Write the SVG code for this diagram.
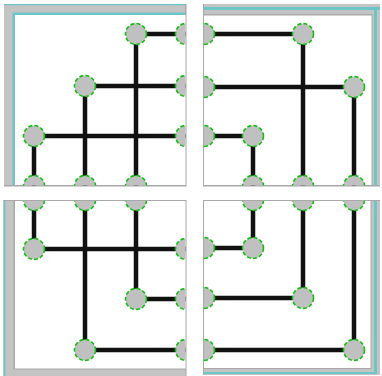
<svg xmlns="http://www.w3.org/2000/svg" width="382" height="376" viewBox="0 0 382 376">
<style>
.panel{fill:#fff}
.band{fill:#c4c4c4}
.teal{fill:#6cc6c8}
.edgeline{fill:#a8a8a8}
.e{stroke:#111;stroke-width:4.5;fill:none;stroke-linecap:butt}
.n{fill:#c0c0c0;stroke:#10c010;stroke-width:1.6;stroke-dasharray:4 2.2}
</style>
<defs>
<clipPath id="cTL"><rect x="15" y="15" width="170.5" height="170.5"/></clipPath>
<clipPath id="cTR"><rect x="204" y="15" width="168" height="170.5"/></clipPath>
<clipPath id="cBL"><rect x="15" y="201" width="170.5" height="168"/></clipPath>
<clipPath id="cBR"><rect x="204" y="201" width="167" height="167"/></clipPath>
</defs>
<rect width="382" height="376" fill="#fff"/>
<g id="frames">
<!-- TL -->
<rect class="edgeline" x="4" y="4" width="182.5" height="182.5"/>
<rect class="band" x="4" y="4" width="181" height="181"/>
<rect class="teal" x="12.5" y="12.5" width="172.5" height="172.5"/>
<rect class="panel" x="15" y="15" width="170.5" height="170"/>
<rect class="teal" x="4" y="4" width="181" height="1.2"/>
<!-- TR -->
<rect class="edgeline" x="203" y="4" width="177" height="182.5"/>
<rect class="band" x="204" y="4" width="176" height="181"/>
<rect class="teal" x="204" y="7" width="176" height="3"/>
<rect class="teal" x="374" y="7" width="3" height="178"/>
<rect class="edgeline" x="204" y="14" width="168.5" height="171.5"/>
<rect class="panel" x="204" y="15.5" width="167.5" height="169.5"/>
<!-- BL -->
<rect class="edgeline" x="3" y="200" width="183.5" height="176"/>
<rect class="band" x="3" y="201" width="182.5" height="175"/>
<rect class="teal" x="4" y="201" width="1.5" height="175"/>
<rect class="edgeline" x="13.5" y="201" width="172.5" height="168.5"/>
<rect class="panel" x="15" y="201" width="170.5" height="167.5"/>
<!-- BR -->
<rect class="edgeline" x="203" y="200" width="177" height="175"/>
<rect class="band" x="204" y="201" width="176" height="174"/>
<rect class="teal" x="374" y="201" width="3" height="171"/>
<rect class="teal" x="204" y="372" width="173" height="2"/>
<rect class="edgeline" x="204" y="201" width="167.5" height="168"/>
<rect class="panel" x="204" y="201" width="166.5" height="167"/>
</g>
<g id="connectors">
<g clip-path="url(#cTL)">
<path class="e" d="M136 34H186M136 34V186M85 86H186M85 86V186M34 136H186M34 136V186"/>
</g>
<g clip-path="url(#cTR)">
<path class="e" d="M204 34H303M303 34V186M204 87H354M354 87V186M204 136H253M253 136V186"/>
</g>
<g clip-path="url(#cBL)">
<path class="e" d="M34 200V249H186M85 200V350H186M136 200V299H186"/>
</g>
<g clip-path="url(#cBR)">
<path class="e" d="M253 200V248H204M303 200V298H204M354 200V350H204"/>
</g>
</g>
<g id="tl-nodes" clip-path="url(#cTL)">
<circle id="tl-a" class="n" cx="136" cy="34" r="10.5"/>
<circle id="tl-b" class="n" cx="85" cy="86" r="10.5"/>
<circle id="tl-c" class="n" cx="34" cy="136" r="10.5"/>
<circle id="tl-p1" class="n" cx="186" cy="34" r="10.5"/>
<circle id="tl-p2" class="n" cx="186" cy="86" r="10.5"/>
<circle id="tl-p3" class="n" cx="186" cy="136" r="10.5"/>
<circle id="tl-p4" class="n" cx="34" cy="186" r="10.5"/>
<circle id="tl-p5" class="n" cx="85" cy="186" r="10.5"/>
<circle id="tl-p6" class="n" cx="136" cy="186" r="10.5"/>
</g>
<g id="tr-nodes" clip-path="url(#cTR)">
<circle id="tr-d" class="n" cx="303" cy="34" r="10.5"/>
<circle id="tr-e" class="n" cx="354" cy="87" r="10.5"/>
<circle id="tr-f" class="n" cx="253" cy="136" r="10.5"/>
<circle id="tr-p1" class="n" cx="204" cy="34" r="10.5"/>
<circle id="tr-p2" class="n" cx="204" cy="87" r="10.5"/>
<circle id="tr-p3" class="n" cx="204" cy="136" r="10.5"/>
<circle id="tr-p4" class="n" cx="253" cy="186" r="10.5"/>
<circle id="tr-p5" class="n" cx="303" cy="186" r="10.5"/>
<circle id="tr-p6" class="n" cx="354" cy="186" r="10.5"/>
</g>
<g id="bl-nodes" clip-path="url(#cBL)">
<circle id="bl-g" class="n" cx="34" cy="249" r="10.5"/>
<circle id="bl-h" class="n" cx="136" cy="299" r="10.5"/>
<circle id="bl-i" class="n" cx="85" cy="350" r="10.5"/>
<circle id="bl-p1" class="n" cx="34" cy="200" r="10.5"/>
<circle id="bl-p2" class="n" cx="85" cy="200" r="10.5"/>
<circle id="bl-p3" class="n" cx="136" cy="200" r="10.5"/>
<circle id="bl-p4" class="n" cx="186" cy="249" r="10.5"/>
<circle id="bl-p5" class="n" cx="186" cy="299" r="10.5"/>
<circle id="bl-p6" class="n" cx="186" cy="350" r="10.5"/>
</g>
<g id="br-nodes" clip-path="url(#cBR)">
<circle id="br-j" class="n" cx="253" cy="248" r="10.5"/>
<circle id="br-k" class="n" cx="303" cy="298" r="10.5"/>
<circle id="br-l" class="n" cx="354" cy="350" r="10.5"/>
<circle id="br-p1" class="n" cx="253" cy="200" r="10.5"/>
<circle id="br-p2" class="n" cx="303" cy="200" r="10.5"/>
<circle id="br-p3" class="n" cx="354" cy="200" r="10.5"/>
<circle id="br-p4" class="n" cx="204" cy="248" r="10.5"/>
<circle id="br-p5" class="n" cx="204" cy="298" r="10.5"/>
<circle id="br-p6" class="n" cx="204" cy="350" r="10.5"/>
</g>
</svg>
